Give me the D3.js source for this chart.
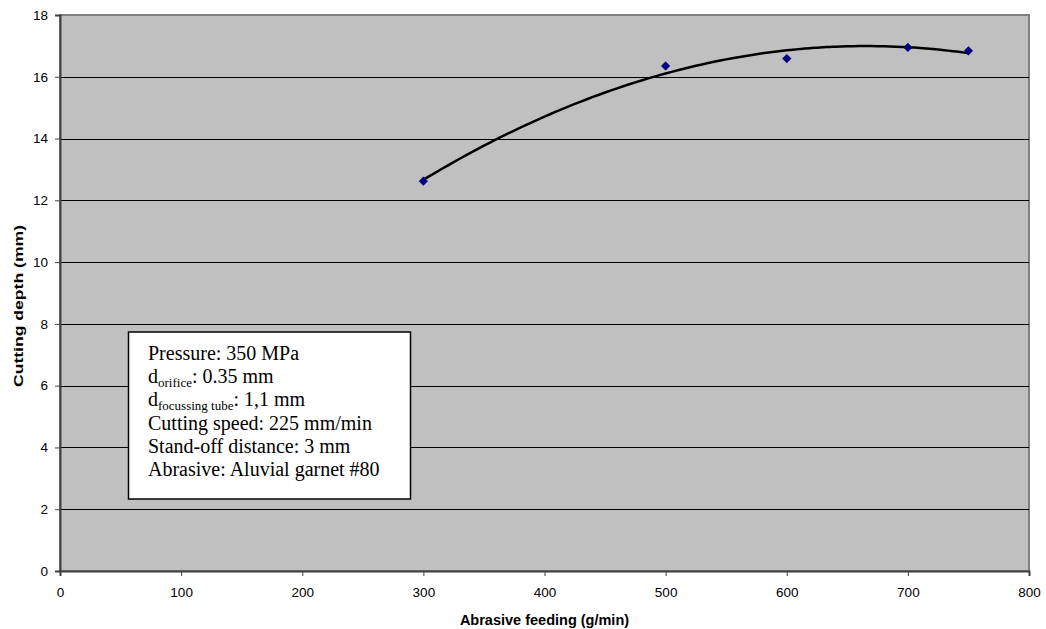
<!DOCTYPE html>
<html>
<head>
<meta charset="utf-8">
<title>Cutting depth vs abrasive feeding</title>
<script src="https://cdnjs.cloudflare.com/ajax/libs/d3/7.8.5/d3.min.js"></script>
<style>
  body { margin: 0; background: #fff; }
  text { font-family: "Liberation Sans", Arial, sans-serif; }
</style>
</head>
<body>
<div class="plot_container"></div>
<script>
// data
var feeding = [300, 500, 600, 700, 750];
var depth = [12.62, 16.35, 16.59, 16.95, 16.84];
var xTicks = [0, 100, 200, 300, 400, 500, 600, 700, 800];
var yTicks = [0, 2, 4, 6, 8, 10, 12, 14, 16, 18];
var infoLines = [
  {main: "Pressure: 350 MPa", sub: null, rest: null},
  {main: "d", sub: "orifice", rest: ": 0.35 mm"},
  {main: "d", sub: "focussing tube", rest: ": 1,1 mm"},
  {main: "Cutting speed: 225 mm/min", sub: null, rest: null},
  {main: "Stand-off distance: 3 mm", sub: null, rest: null},
  {main: "Abrasive: Aluvial garnet #80", sub: null, rest: null}
];

var width = 1046, height = 629;
var pLeft = 60, pRight = 1029, pTop = 15, pBottom = 571;

var svg = d3.select(".plot_container").append("svg")
    .attr("width", width)
    .attr("height", height);

var x = d3.scaleLinear().domain([0, 800]).range([pLeft, pRight]);
var y = d3.scaleLinear().domain([0, 18]).range([pBottom, pTop]);

// plot background
svg.append("rect")
    .attr("x", pLeft).attr("y", pTop)
    .attr("width", pRight - pLeft).attr("height", pBottom - pTop)
    .style("fill", "#c0c0c0")
    .style("stroke", "#808080")
    .style("stroke-width", 2);

// horizontal grid
svg.selectAll(".grid")
    .data(yTicks.filter(function(d){ return d > 0 && d < 18; }))
    .enter()
    .append("line")
    .attr("class", "grid")
    .attr("x1", pLeft).attr("x2", pRight)
    .attr("y1", function(d){ return Math.round(y(d)) + 0.5; })
    .attr("y2", function(d){ return Math.round(y(d)) + 0.5; })
    .style("stroke", "#000")
    .style("stroke-width", 1);

// axes
var yAxis = d3.axisLeft(y).tickValues(yTicks).tickSize(5).tickPadding(7);
var xAxis = d3.axisBottom(x).tickValues(xTicks).tickSize(5).tickPadding(11);

var gy = svg.append("g").attr("transform", "translate(" + pLeft + ",0)").call(yAxis);
var gx = svg.append("g").attr("transform", "translate(0," + pBottom + ")").call(xAxis);
[gx, gy].forEach(function(g){
  g.select(".domain").style("stroke", "#404040").style("stroke-width", 2);
  g.selectAll(".tick line").style("stroke", "#404040");
  g.selectAll(".tick text").style("font-size", "13.5px").style("fill", "#000")
    .style("font-family", "'Liberation Sans', Arial, sans-serif");
});

// polynomial (order 2) trendline, least squares from the points
function polyFit(xs, ys) {
  var n = xs.length, s = [0,0,0,0,0], t = [0,0,0];
  for (var i = 0; i < n; i++) {
    var p = 1;
    for (var k = 0; k < 5; k++) { s[k] += p; if (k < 3) t[k] += p * ys[i]; p *= xs[i]; }
  }
  var A = [[s[0], s[1], s[2], t[0]], [s[1], s[2], s[3], t[1]], [s[2], s[3], s[4], t[2]]];
  for (var c = 0; c < 3; c++) {
    for (var r = c + 1; r < 3; r++) {
      var f = A[r][c] / A[c][c];
      for (var j = c; j < 4; j++) A[r][j] -= f * A[c][j];
    }
  }
  var b = [0,0,0];
  for (var r2 = 2; r2 >= 0; r2--) {
    var v = A[r2][3];
    for (var j2 = r2 + 1; j2 < 3; j2++) v -= A[r2][j2] * b[j2];
    b[r2] = v / A[r2][r2];
  }
  return b;
}
var coef = polyFit(feeding, depth);
var trend = d3.range(300, 751, 5).map(function(v){
  return [v, coef[0] + coef[1] * v + coef[2] * v * v];
});
svg.append("path")
    .datum(trend)
    .attr("d", d3.line().x(function(d){ return x(d[0]); }).y(function(d){ return y(d[1]); }).curve(d3.curveBasis))
    .style("fill", "none")
    .style("stroke", "#000")
    .style("stroke-width", 2.5);

// markers
svg.selectAll(".pt")
    .data(feeding)
    .enter()
    .append("path")
    .attr("class", "pt")
    .attr("d", d3.symbol().type(d3.symbolDiamond2).size(48))
    .attr("transform", function(d, i){ return "translate(" + x(d) + "," + y(depth[i]) + ")"; })
    .style("fill", "#000080")
    .style("stroke", "#000080")
    .style("stroke-width", 0.5);

// axis titles
svg.append("text")
    .attr("x", 544.5).attr("y", 625)
    .attr("text-anchor", "middle")
    .style("font-size", "14.5px").style("font-weight", "bold")
    .text("Abrasive feeding (g/min)");
svg.append("text")
    .attr("transform", "translate(23,306) rotate(-90)")
    .attr("text-anchor", "middle")
    .attr("textLength", 162)
    .attr("lengthAdjust", "spacingAndGlyphs")
    .style("font-size", "13px").style("font-weight", "bold")
    .text("Cutting depth (mm)");

// info box
svg.append("rect")
    .attr("x", 128.5).attr("y", 332)
    .attr("width", 282).attr("height", 167)
    .style("fill", "#fff")
    .style("stroke", "#000")
    .style("stroke-width", 1.5);

var info = svg.append("text")
    .style("font-family", "'Liberation Serif', 'Times New Roman', serif")
    .style("font-size", "20px");
infoLines.forEach(function(l, i){
  info.append("tspan").attr("x", 148).attr("y", 360 + i * 23.2).text(l.main);
  if (l.sub) {
    info.append("tspan").attr("dy", 4).style("font-size", "13px").text(l.sub);
    info.append("tspan").attr("dy", -4).text(l.rest);
  }
});
</script>
</body>
</html>
